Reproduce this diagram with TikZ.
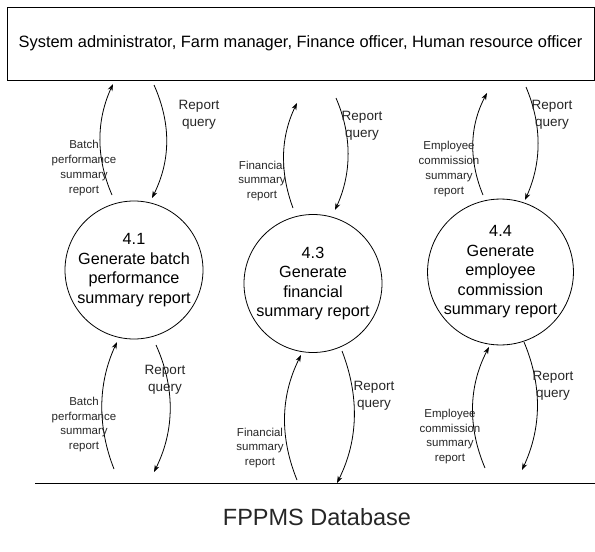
\documentclass[tikz,border=0pt]{standalone}
\usepackage{fontspec}
\setmainfont{Liberation Sans}
\usetikzlibrary{arrows.meta}
\begin{document}
\begin{tikzpicture}[x=1pt,y=-1pt,
  proc/.style={draw,circle,line width=0.8pt,minimum size=138pt,inner sep=0pt,align=center,font=\fontsize{16.2}{19.5}\selectfont},
  flow/.style={-{Stealth[length=7pt,width=5pt]},line width=0.8pt},
  lbl/.style={align=center,font=\fontsize{11.5}{14.8}\selectfont,inner sep=0pt,text=black!85},
  qlbl/.style={align=center,font=\fontsize{13.5}{16.5}\selectfont,inner sep=0pt,text=black!85}]
\useasboundingbox (0,0) rectangle (595,552);

% external entity
\node[draw,line width=0.8pt,minimum width=587pt,minimum height=73pt,inner sep=0pt,font=\fontsize{16.4}{19}\selectfont] (ent) at (300.5,43.5)
  {System administrator, Farm manager, Finance officer, Human resource officer};

% processes
\node[proc] (p41) at (134,270) {4.1\\Generate batch\\performance\\summary report};
\node[proc] (p43) at (313,283.5) {4.3\\Generate\\financial\\summary report};
\node[proc,minimum size=142pt] (p44) at (500.5,272) {4.4\\Generate\\employee\\commission\\summary report};

% data store
\coordinate (dbl) at (35,483);
\coordinate (dbr) at (595,483);
\draw[line width=0.8pt] (dbl) -- (dbr);
\node[font=\fontsize{23.5}{26}\selectfont,text=black!85] (db) at (317,517) {FPPMS Database};

% arrow end points (top)
\coordinate (a1s) at (112,195); \coordinate (a1e) at (113,84);
\coordinate (b1s) at (154,85);  \coordinate (b1e) at (152,198);
\coordinate (a3s) at (293,208); \coordinate (a3e) at (297,103);
\coordinate (b3s) at (336,98);  \coordinate (b3e) at (335,210);
\coordinate (a4s) at (483,195); \coordinate (a4e) at (487,93);
\coordinate (b4s) at (526,87);  \coordinate (b4e) at (525,200);

% arrow end points (bottom)
\coordinate (c1s) at (114,469); \coordinate (c1e) at (117,342);
\coordinate (d1s) at (156,345); \coordinate (d1e) at (154,472);
\coordinate (c3s) at (297,480); \coordinate (c3e) at (301,355);
\coordinate (d3s) at (342,351); \coordinate (d3e) at (337,483);
\coordinate (c4s) at (485,468); \coordinate (c4e) at (489,347);
\coordinate (d4s) at (524,342); \coordinate (d4e) at (522,470);

% top flows
\draw[flow] (a1s) .. controls (96,158) and (96,121) .. (a1e);
\draw[flow] (b1s) .. controls (171,123) and (171,160) .. (b1e);
\draw[flow] (a3s) .. controls (280,173) and (280,138) .. (a3e);
\draw[flow] (b3s) .. controls (352,135) and (352,173) .. (b3e);
\draw[flow] (a4s) .. controls (469,161) and (469,127) .. (a4e);
\draw[flow] (b4s) .. controls (542,125) and (542,162) .. (b4e);

% bottom flows
\draw[flow] (c1s) .. controls (97.5,427) and (97.5,384) .. (c1e);
\draw[flow] (d1s) .. controls (175,387) and (175,430) .. (d1e);
\draw[flow] (c3s) .. controls (280,438) and (280,397) .. (c3e);
\draw[flow] (d3s) .. controls (359,395) and (359,439) .. (d3e);
\draw[flow] (c4s) .. controls (468,428) and (468,387) .. (c4e);
\draw[flow] (d4s) .. controls (542,385) and (542,427) .. (d4e);

% top labels
\node[qlbl] (q1t) at (199,115) {Report\\query};
\node[lbl] (r1t) at (84,168) {Batch\\performance\\summary\\report};
\node[qlbl] (q3t) at (362,126) {Report\\query};
\node[lbl] (r3t) at (262,181) {Financial\\summary\\report};
\node[qlbl] (q4t) at (552,115) {Report\\query};
\node[lbl] (r4t) at (449,169) {Employee\\commission\\summary\\report};

% bottom labels
\node[qlbl] (q1b) at (165,380) {Report\\query};
\node[lbl] (r1b) at (84,424.5) {Batch\\performance\\summary\\report};
\node[qlbl] (q3b) at (374,396) {Report\\query};
\node[lbl] (r3b) at (260,448) {Financial\\summary\\report};
\node[qlbl] (q4b) at (553,386) {Report\\query};
\node[lbl] (r4b) at (450,436.5) {Employee\\commission\\summary\\report};
\end{tikzpicture}
\end{document}
